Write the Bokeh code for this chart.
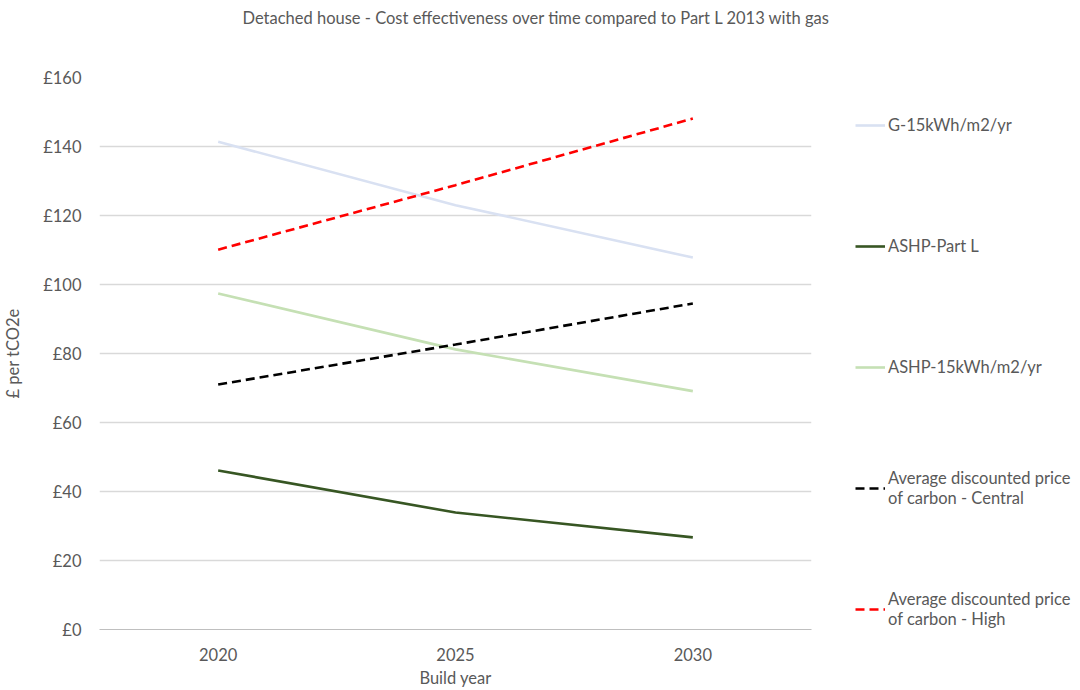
from bokeh.plotting import figure
from bokeh.models import Legend, LegendItem, Title, FixedTicker
from bokeh.embed import file_html
from bokeh.resources import INLINE

years = ["2020", "2025", "2030"]
g_15 = [141.4, 123.0, 107.8]
ashp_part_l = [46.1, 33.9, 26.7]
ashp_15 = [97.4, 81.2, 69.1]
carbon_central = [71.0, 82.6, 94.5]
carbon_high = [110.1, 128.8, 148.1]

y_ticks = [0, 20, 40, 60, 80, 100, 120, 140, 160]
y_tick_labels = ["£0", "£20", "£40", "£60", "£80", "£100", "£120", "£140", "£160"]

series_names = ["G-15kWh/m2/yr", "ASHP-Part L", "ASHP-15kWh/m2/yr",
                "Average discounted price\nof carbon - Central",
                "Average discounted price\nof carbon - High"]
title_text = "Detached house - Cost effectiveness over time compared to Part L 2013 with gas"

FONT = "Lato"
FS = "16.5px"
GREY = "#595959"

p = figure(x_range=years, y_range=(0, 160), frame_width=712, frame_height=552,
           output_backend="svg", toolbar_location=None,
           min_border_left=98, min_border_top=77, min_border_bottom=0, min_border_right=268)
p.outline_line_color = None
p.background_fill_color = "white"
p.border_fill_color = "white"

# two blank spacer titles push the real title up, away from the frame
for _ in range(2):
    p.add_layout(Title(text=" ", standoff=0, text_font=FONT, text_font_size="19px"), "above")
p.add_layout(Title(text=title_text, align="left", offset=143, standoff=0,
                   text_font=FONT, text_font_size=FS,
                   text_font_style="normal", text_color=GREY), "above")

r1 = p.line(years, g_15, line_color="#d9e1f2", line_width=2.6)
r2 = p.line(years, ashp_part_l, line_color="#375623", line_width=2.6)
r3 = p.line(years, ashp_15, line_color="#c5e0b4", line_width=2.6)
r4 = p.line(years, carbon_central, line_color="black", line_width=2.6, line_dash="9 5")
r5 = p.line(years, carbon_high, line_color="#ff0000", line_width=2.6, line_dash="9 5")

legend = Legend(items=[LegendItem(label=n, renderers=[r]) for n, r in
                       zip(series_names, [r1, r2, r3, r4, r5])],
                location=(44, -2), glyph_width=30, label_standoff=3,
                label_height=44, glyph_height=20,
                label_text_font=FONT, label_text_font_size=FS, label_text_color=GREY,
                label_text_line_height=1.3,
                spacing=77, padding=0, margin=0, border_line_color=None,
                background_fill_alpha=0)
p.add_layout(legend, "right")

p.yaxis.ticker = FixedTicker(ticks=y_ticks)
p.yaxis.major_label_overrides = {v: s for v, s in zip(y_ticks, y_tick_labels)}
p.yaxis.axis_line_color = None
p.yaxis.major_tick_line_color = None
p.yaxis.minor_tick_line_color = None
p.yaxis.major_label_standoff = 12
p.yaxis.axis_label = "£ per tCO2e"
p.yaxis.axis_label_standoff = 17
p.xaxis.axis_label = "Build year"
p.xaxis.axis_line_color = "#bfbfbf"
p.xaxis.major_tick_line_color = None
p.xaxis.major_label_standoff = 12
p.xaxis.axis_label_standoff = 4
for ax in (p.xaxis, p.yaxis):
    ax.major_label_text_font = FONT
    ax.major_label_text_font_size = FS
    ax.major_label_text_color = GREY
    ax.axis_label_text_font = FONT
    ax.axis_label_text_font_size = FS
    ax.axis_label_text_font_style = "normal"
    ax.axis_label_text_color = GREY

p.xgrid.grid_line_color = None
p.ygrid.grid_line_color = "#d9d9d9"
p.ygrid.grid_line_width = 1.3
p.x_range.range_padding = 0

open("out.html", "w").write(file_html(p, INLINE))
